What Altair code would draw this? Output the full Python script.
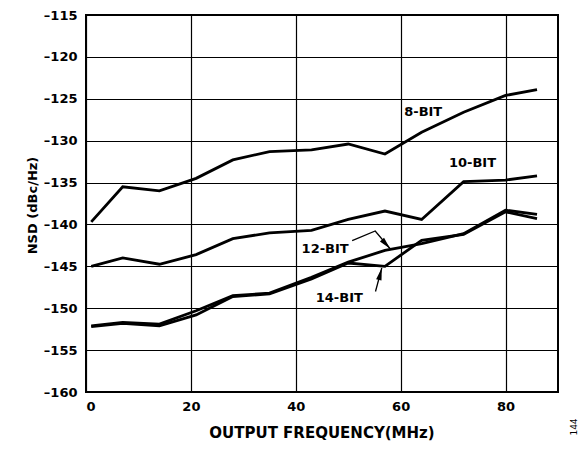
import altair as alt
import pandas as pd

# ---- data ----
freq = [1, 7, 14, 21, 28, 35, 43, 50, 57, 64, 72, 80, 86]
nsd_8bit = [-139.7, -135.5, -136.0, -134.5, -132.3, -131.3, -131.1, -130.4, -131.6, -129.0, -126.6, -124.6, -123.9]
nsd_10bit = [-145.0, -144.0, -144.75, -143.6, -141.7, -141.0, -140.7, -139.4, -138.4, -139.4, -134.9, -134.7, -134.2]
nsd_12bit = [-152.1, -151.7, -151.9, -150.3, -148.5, -148.2, -146.3, -144.5, -143.1, -142.3, -141.1, -138.3, -138.8]
nsd_14bit = [-152.2, -151.8, -152.1, -150.8, -148.6, -148.3, -146.5, -144.6, -145.0, -141.9, -141.2, -138.5, -139.3]
series_names = ["8-BIT", "10-BIT", "12-BIT", "14-BIT"]

label_text = ["8-BIT", "10-BIT", "12-BIT", "14-BIT"]
label_x = [64.3, 73.7, 45.6, 48.3]
label_y = [-126.6, -132.7, -142.9, -148.8]

arrow12_x = [50.75, 55.15, 58.0]
arrow12_y = [-141.93, -140.78, -142.9]
arrow14_x = [55.2, 56.4]
arrow14_y = [-148.0, -145.2]
head_x = [58.0, 56.4]
head_y = [-142.9, -145.2]
head_angle = [138, 14]

x_ticks = [0, 20, 40, 60, 80]
y_ticks = [-160, -155, -150, -145, -140, -135, -130, -125, -120, -115]

# ---- tables ----
rows = []
for name, vals in zip(series_names, [nsd_8bit, nsd_10bit, nsd_12bit, nsd_14bit]):
    for f, v in zip(freq, vals):
        rows.append({"series": name, "freq": f, "nsd": v})
df = pd.DataFrame(rows)

labels_df = pd.DataFrame({"text": label_text, "freq": label_x, "nsd": label_y})

arrow_rows = []
for i, (ax, ay) in enumerate(zip(arrow12_x, arrow12_y)):
    arrow_rows.append({"id": "a12", "o": i, "freq": ax, "nsd": ay})
for i, (ax, ay) in enumerate(zip(arrow14_x, arrow14_y)):
    arrow_rows.append({"id": "a14", "o": i, "freq": ax, "nsd": ay})
arrows_df = pd.DataFrame(arrow_rows)

heads_df = pd.DataFrame({"freq": head_x, "nsd": head_y, "ang": head_angle})
note_df = pd.DataFrame({"t": ["144"]})

xscale = alt.Scale(domain=[0, 90], nice=False, zero=False)
yscale = alt.Scale(domain=[-160, -115], nice=False, zero=False)

xenc = alt.X(
    "freq:Q", scale=xscale,
    axis=alt.Axis(values=x_ticks, title="OUTPUT FREQUENCY(MHz)", labelPadding=8,
                  titleX=235.5, titleY=45, titleBaseline="alphabetic", titleAlign="center",
                  titleFontSize=15),
)
yenc = alt.Y(
    "nsd:Q", scale=yscale,
    axis=alt.Axis(values=y_ticks, title="NSD (dBc/Hz)", labelPadding=9,
                  labelExpr="'–' + (-datum.value)",
                  titleX=-54, titleY=190, titleAngle=270, titleBaseline="middle",
                  titleAlign="center", titleFontSize=13),
)

lines = alt.Chart(df).mark_line(color="black", strokeWidth=2.8).encode(
    x=xenc, y=yenc, detail="series:N"
)

texts = alt.Chart(labels_df).mark_text(
    font="DejaVu Sans", fontWeight="bold", fontSize=13, color="black"
).encode(x="freq:Q", y="nsd:Q", text="text:N")

arrows = alt.Chart(arrows_df).mark_line(color="black", strokeWidth=1.3).encode(
    x="freq:Q", y="nsd:Q", detail="id:N", order="o:Q"
)

heads = alt.Chart(heads_df).mark_point(
    shape="M0,0L0.45,2L-0.45,2Z", filled=True, color="black", opacity=1, size=150
).encode(x="freq:Q", y="nsd:Q", angle=alt.Angle("ang:Q", scale=None))

note = alt.Chart(note_df).mark_text(
    font="DejaVu Sans", fontSize=9, color="black", angle=270
).encode(x=alt.value(488), y=alt.value(412), text="t:N")

chart = alt.layer(lines, texts, arrows, heads, note).properties(
    width=472, height=377,
    autosize=alt.AutoSizeParams(type="none"),
    padding={"left": 78, "top": 7, "right": 21, "bottom": 49},
).configure_view(
    stroke="black", strokeWidth=2
).configure_axis(
    grid=True, gridColor="black", gridOpacity=1, gridWidth=1.2,
    domain=False, ticks=False,
    labelFont="DejaVu Sans", labelFontWeight="bold", labelFontSize=13, labelColor="black",
    titleFont="DejaVu Sans", titleFontWeight="bold", titleColor="black",
)

chart.save("out.html", embed_options={"renderer": "svg", "actions": False})
